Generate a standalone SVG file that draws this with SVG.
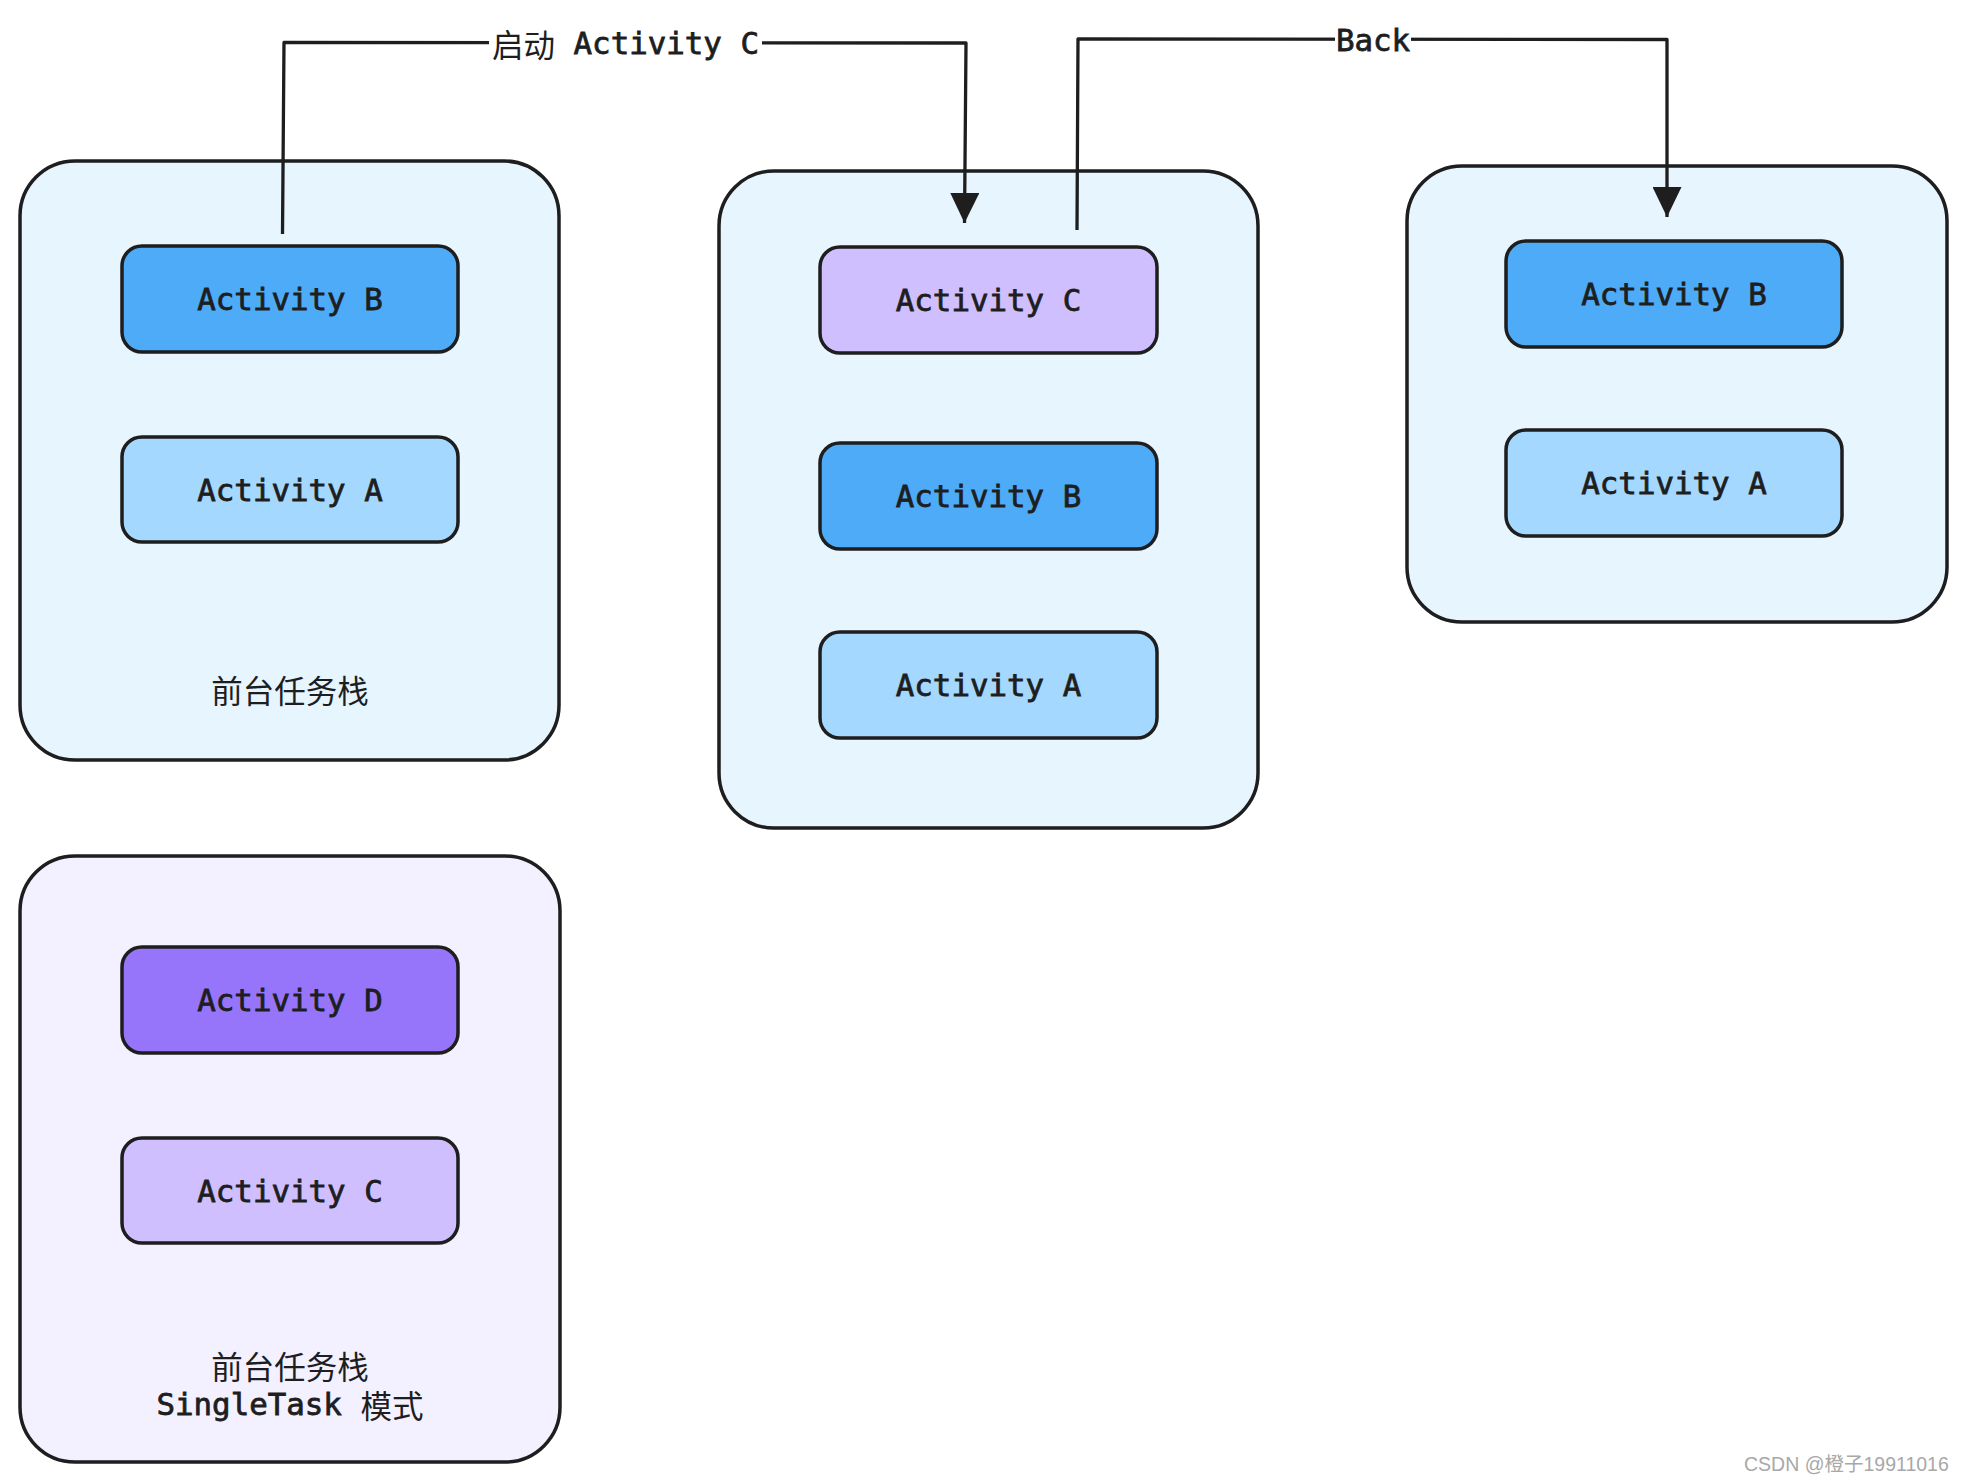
<svg xmlns="http://www.w3.org/2000/svg" width="1967" height="1482" viewBox="0 0 1967 1482">
<style>
.stack{stroke:#1e1e1e;stroke-width:3.5}
.blue{fill:#e7f5ff}
.violet{fill:#f3f0ff}
.act{stroke:#1e1e1e;stroke-width:3.5}
.b{fill:#4dabf7}
.a{fill:#a5d8ff}
.c{fill:#d0bfff}
.d{fill:#9775fa}
.t{font-family:"DejaVu Sans Mono","Liberation Mono","Noto Sans CJK SC",monospace;font-size:30.8px;fill:#1e1e1e;stroke:#1e1e1e;stroke-width:0.8px;text-anchor:middle;dominant-baseline:central}
.cjk{font-family:"Noto Sans CJK SC","Noto Sans",sans-serif;font-size:31.5px;fill:#1e1e1e;stroke:none;text-anchor:middle;dominant-baseline:central}
.edge{fill:none;stroke:#1e1e1e;stroke-width:3.3;stroke-linejoin:round}
.lbg{fill:#ffffff}
</style>
<defs>
<marker id="arr" markerUnits="userSpaceOnUse" viewBox="0 0 30 29" refX="30" refY="14.5" markerWidth="30" markerHeight="29" orient="auto">
<path d="M0,0 L30,14.5 L0,29 z" fill="#1e1e1e"/>
</marker>
</defs>
<rect width="1967" height="1482" fill="#ffffff"/>

<g id="stack1">
<rect class="stack blue" x="20" y="161" width="539" height="599" rx="55" ry="55"/>
<text class="cjk" x="290" y="689">前台任务栈</text>
</g>
<g id="s1-actB"><rect class="act b" x="122" y="246" width="336" height="106" rx="20"/><text class="t" x="290" y="299">Activity B</text></g>
<g id="s1-actA"><rect class="act a" x="122" y="437" width="336" height="105" rx="20"/><text class="t" x="290" y="489.5">Activity A</text></g>

<g id="stack2">
<rect class="stack blue" x="719" y="171" width="539" height="657" rx="55" ry="55"/>
</g>
<g id="s2-actC"><rect class="act c" x="820" y="247" width="337" height="106" rx="20"/><text class="t" x="988.5" y="300">Activity C</text></g>
<g id="s2-actB"><rect class="act b" x="820" y="443" width="337" height="106" rx="20"/><text class="t" x="988.5" y="496">Activity B</text></g>
<g id="s2-actA"><rect class="act a" x="820" y="632" width="337" height="106" rx="20"/><text class="t" x="988.5" y="685">Activity A</text></g>

<g id="stack3">
<rect class="stack blue" x="1407" y="166" width="540" height="456" rx="55" ry="55"/>
</g>
<g id="s3-actB"><rect class="act b" x="1506" y="241" width="336" height="106" rx="20"/><text class="t" x="1674" y="294">Activity B</text></g>
<g id="s3-actA"><rect class="act a" x="1506" y="430" width="336" height="106" rx="20"/><text class="t" x="1674" y="483">Activity A</text></g>

<g id="stack4">
<rect class="stack violet" x="20" y="856" width="540" height="606" rx="55" ry="55"/>
<text class="cjk" x="290" y="1365">前台任务栈</text>
<text class="t" x="290" y="1404">SingleTask <tspan class="cjk">模式</tspan></text>
</g>
<g id="s4-actD"><rect class="act d" x="122" y="947" width="336" height="106" rx="20"/><text class="t" x="290" y="1000">Activity D</text></g>
<g id="s4-actC"><rect class="act c" x="122" y="1138" width="336" height="105" rx="20"/><text class="t" x="290" y="1190.5">Activity C</text></g>

<g id="connectors">
<path class="edge" d="M282.5,234 L284,42.5 L966,43 L964.5,223" marker-end="url(#arr)"/>
<rect class="lbg" x="489" y="26" width="273" height="34"/>
<text class="t" x="625.5" y="43"><tspan class="cjk">启动</tspan> Activity C</text>
<path class="edge" d="M1077,230 L1078,39 L1667,39.5 L1667,217" marker-end="url(#arr)"/>
<rect class="lbg" x="1335" y="23" width="76" height="34"/>
<text class="t" x="1373" y="40">Back</text>
</g>

<text x="1744" y="1471" font-family="Liberation Sans, Noto Sans CJK SC, sans-serif" font-size="19.5" fill="#a8a8a8">CSDN @橙子19911016</text>
</svg>
